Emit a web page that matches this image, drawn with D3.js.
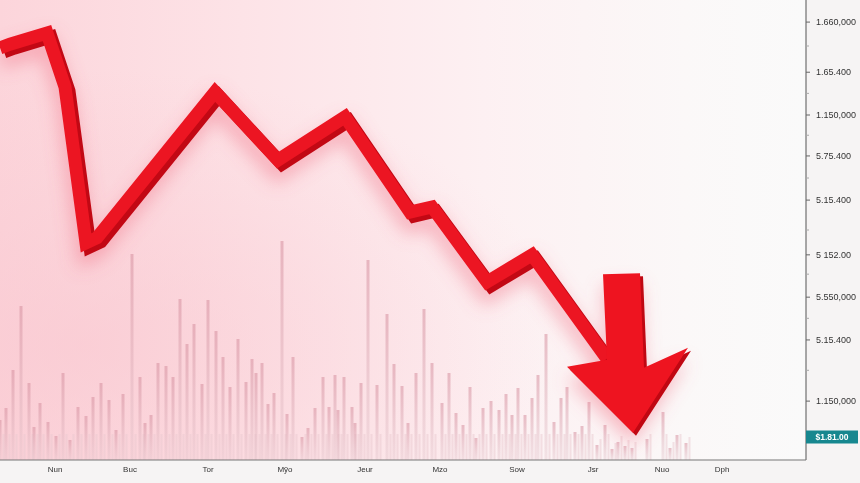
<!DOCTYPE html>
<html>
<head>
<meta charset="utf-8">
<script src="https://cdn.jsdelivr.net/npm/d3@7"></script>
<style>
  html, body { margin: 0; padding: 0; background: #f7f5f5; }
  svg { display: block; }
</style>
</head>
<body>
<svg id="chart" width="860" height="483"></svg>
<script>
// ---------- data ----------
const barDays = [0,3,6.5,10.5,14.5,17,20,24,28,31.5,35,39,43,46.5,50.5,54.5,58,61.5,66,70,72.5,75.5,79,83,86.5,90,93.5,97,101,104,108,111.5,115,119,123,126,128,131,134,137,141,143.5,146.5,151,154,157.5,161.5,164.5,167.5,169,172,176,177.5,180.5,184,188.5,193.5,197,201,204,208,212,216,221,224.5,228,231.5,235,238,241.5,245.5,249.5,253,256,259,262.5,266,269,273,277,280.5,283.5,287.5,291,294.5,298.5,302.5,306,309,312.5,316,323.5,331.5,335,338.5,343];
const volumes = [40,52,90,154,77,33,57,38,24,87,20,53,44,63,77,60,30,66,206,83,37,45,97,94,83,161,116,136,76,160,129,103,73,121,78,101,87,97,56,67,219,46,103,23,32,52,83,53,85,50,83,53,37,77,200,75,146,96,74,37,87,151,97,57,87,47,35,73,22,52,59,50,66,45,72,45,62,85,126,38,62,73,28,34,58,15,35,11,18,14,12,21,48,12,25,17];
const priceDays   = [0, 5, 23.5, 32.5, 43, 48.5, 107.5, 139, 172.5, 205, 216, 243.5, 266, 303.5];
const priceValues = [896, 904, 928, 811, 472, 483, 800, 652, 746, 539, 550, 387, 446, 220];
const arrowTipDay = 316.5, arrowTipValue = 59, arrowShaftTopValue = 404;
const monthLabels = ["Nun","Buc","Tor","Mỹo","Jeur","Mzo","Sow","Jsr","Nuo","Dph"];
const monthDays   = [27.5, 65, 104, 142.5, 182.5, 220, 258.5, 296.5, 331, 361];
const yTickValues = [952, 843, 750, 661, 565, 446, 354, 261, 128];
const yTickLabels = ["1.660,000","1.65.400","1.150,000","5.75.400","5.15.400","5 152.00","5.550,000","5.15.400","1.150,000"];
const yMinorValues = [900, 797, 706, 613, 500, 404, 308, 195];
const badgeValue = 50, badgeLabel = "$1.81.00";

// ---------- setup ----------
const W = 860, H = 483, plotR = 806, plotB = 460;
const svg = d3.select("#chart");
const x = d3.scaleLinear().domain([0, 403]).range([0, plotR]);
const y = d3.scaleLinear().domain([0, 1000]).range([plotB, 0]);
const vol = d3.scaleLinear().domain([0, 460]).range([plotB, 0]);

const defs = svg.append("defs");
const bg = defs.append("linearGradient").attr("id","bg").attr("x1","0").attr("x2","1").attr("y1","0").attr("y2","0");
[[0,"#fcd5db"],[0.3,"#fde3e7"],[0.6,"#fdf0f2"],[0.85,"#fbf8f8"],[1,"#fafafa"]].forEach(s=>bg.append("stop").attr("offset",s[0]).attr("stop-color",s[1]));
const bg2 = defs.append("radialGradient").attr("id","bg2").attr("cx","0.1").attr("cy","0.75").attr("r","0.6");
bg2.append("stop").attr("offset",0).attr("stop-color","#f9c6cf").attr("stop-opacity",0.6);
bg2.append("stop").attr("offset",1).attr("stop-color","#f9c6cf").attr("stop-opacity",0);
const barG = defs.append("linearGradient").attr("id","barG").attr("x1","0").attr("x2","0").attr("y1","0").attr("y2","1");
barG.append("stop").attr("offset",0).attr("stop-color","#d6909f").attr("stop-opacity",0.55);
barG.append("stop").attr("offset",1).attr("stop-color","#e0c2c9").attr("stop-opacity",0.35);
const blur = defs.append("filter").attr("id","blur").attr("x","-20%").attr("y","-20%").attr("width","140%").attr("height","140%");
blur.append("feGaussianBlur").attr("stdDeviation",9);

svg.append("rect").attr("width",W).attr("height",H).attr("fill","#f6f4f4");
svg.append("rect").attr("width",plotR).attr("height",plotB).attr("fill","url(#bg)");
svg.append("rect").attr("width",plotR).attr("height",plotB).attr("fill","url(#bg2)");

// ---------- volume bars ----------
// faint stripes near base
svg.append("g").selectAll("rect").data(volumes).join("rect")
  .attr("x",(d,i)=>x(barDays[i])+2.5).attr("width",2)
  .attr("y",d=>vol(Math.min(d,20)+6)).attr("height",d=>plotB-vol(Math.min(d,20)+6))
  .attr("fill","#e9c9d0").attr("opacity",0.5);
svg.append("g").selectAll("rect").data(volumes).join("rect")
  .attr("x",(d,i)=>x(barDays[i])-1.5).attr("width",3)
  .attr("y",d=>vol(d)).attr("height",d=>plotB-vol(d))
  .attr("fill","url(#barG)");

// ---------- price line ----------
const pts = priceDays.map((d,i)=>[x(d), y(priceValues[i])]);
const line = d3.line();
const tip = [x(arrowTipDay), y(arrowTipValue)];
const shaftTop = y(arrowShaftTopValue);
const arrowPts = [
  [tip[0]-30, shaftTop], [tip[0]+7, shaftTop-1], [tip[0]+11, tip[1]-65],
  [tip[0]+55, tip[1]-85], tip, [tip[0]-66, tip[1]-66], [tip[0]-26, tip[1]-73]
];

// glow
const glow = svg.append("g").attr("filter","url(#blur)").attr("transform","translate(0,12)");
glow.append("path").attr("d",line(pts)).attr("fill","none").attr("stroke","#f26c80").attr("stroke-width",18).attr("opacity",0.45);
glow.append("path").attr("d",line(arrowPts)+"Z").attr("fill","#f26c80").attr("opacity",0.45);

// 3D side
svg.append("path").attr("d",line(pts)).attr("transform","translate(4,4)")
  .attr("fill","none").attr("stroke","#c20814").attr("stroke-width",13).attr("stroke-linejoin","miter");
svg.append("path").attr("d",line(pts))
  .attr("fill","none").attr("stroke","#ec1522").attr("stroke-width",13).attr("stroke-linejoin","miter");

svg.append("path").attr("d",line(arrowPts)+"Z").attr("transform","translate(3,3)").attr("fill","#c00712");
svg.append("path").attr("d",line(arrowPts)+"Z").attr("fill","#ee1420");

// ---------- axes ----------
const ax = svg.append("g").attr("font-family","'Liberation Sans Narrow','Liberation Sans',Arial,sans-serif").attr("font-size",9).attr("fill","#333");
ax.append("line").attr("x1",plotR).attr("x2",plotR).attr("y1",0).attr("y2",plotB).attr("stroke","#555").attr("stroke-width",1);
ax.append("line").attr("x1",0).attr("x2",plotR).attr("y1",plotB).attr("y2",plotB).attr("stroke","#777").attr("stroke-width",1);
ax.selectAll(".yt").data(yTickValues).join("line").attr("class","yt").attr("x1",plotR).attr("x2",plotR+4).attr("y1",d=>y(d)).attr("y2",d=>y(d)).attr("stroke","#666");
ax.selectAll(".ym").data(yMinorValues).join("line").attr("class","ym").attr("x1",plotR).attr("x2",plotR+3).attr("y1",d=>y(d)).attr("y2",d=>y(d)).attr("stroke","#aaa");
ax.selectAll(".yl").data(yTickValues).join("text").attr("class","yl")
  .attr("x",plotR+10).attr("y",d=>y(d)).attr("dy","0.35em").text((d,i)=>yTickLabels[i]);
ax.selectAll(".xl").data(monthDays).join("text").attr("class","xl")
  .attr("x",d=>x(d)).attr("y",plotB+12).attr("text-anchor","middle").attr("font-size",8).text((d,i)=>monthLabels[i]);

// badge
const by = y(badgeValue);
svg.append("rect").attr("x",plotR).attr("y",by-6.5).attr("width",52).attr("height",13).attr("fill","#17878f");
svg.append("text").attr("x",plotR+26).attr("y",by).attr("dy","0.35em").attr("text-anchor","middle")
  .attr("font-family","'Liberation Sans',Arial,sans-serif").attr("font-size",8.5).attr("font-weight","bold").attr("fill","#fff").text(badgeLabel);
</script>
</body>
</html>
